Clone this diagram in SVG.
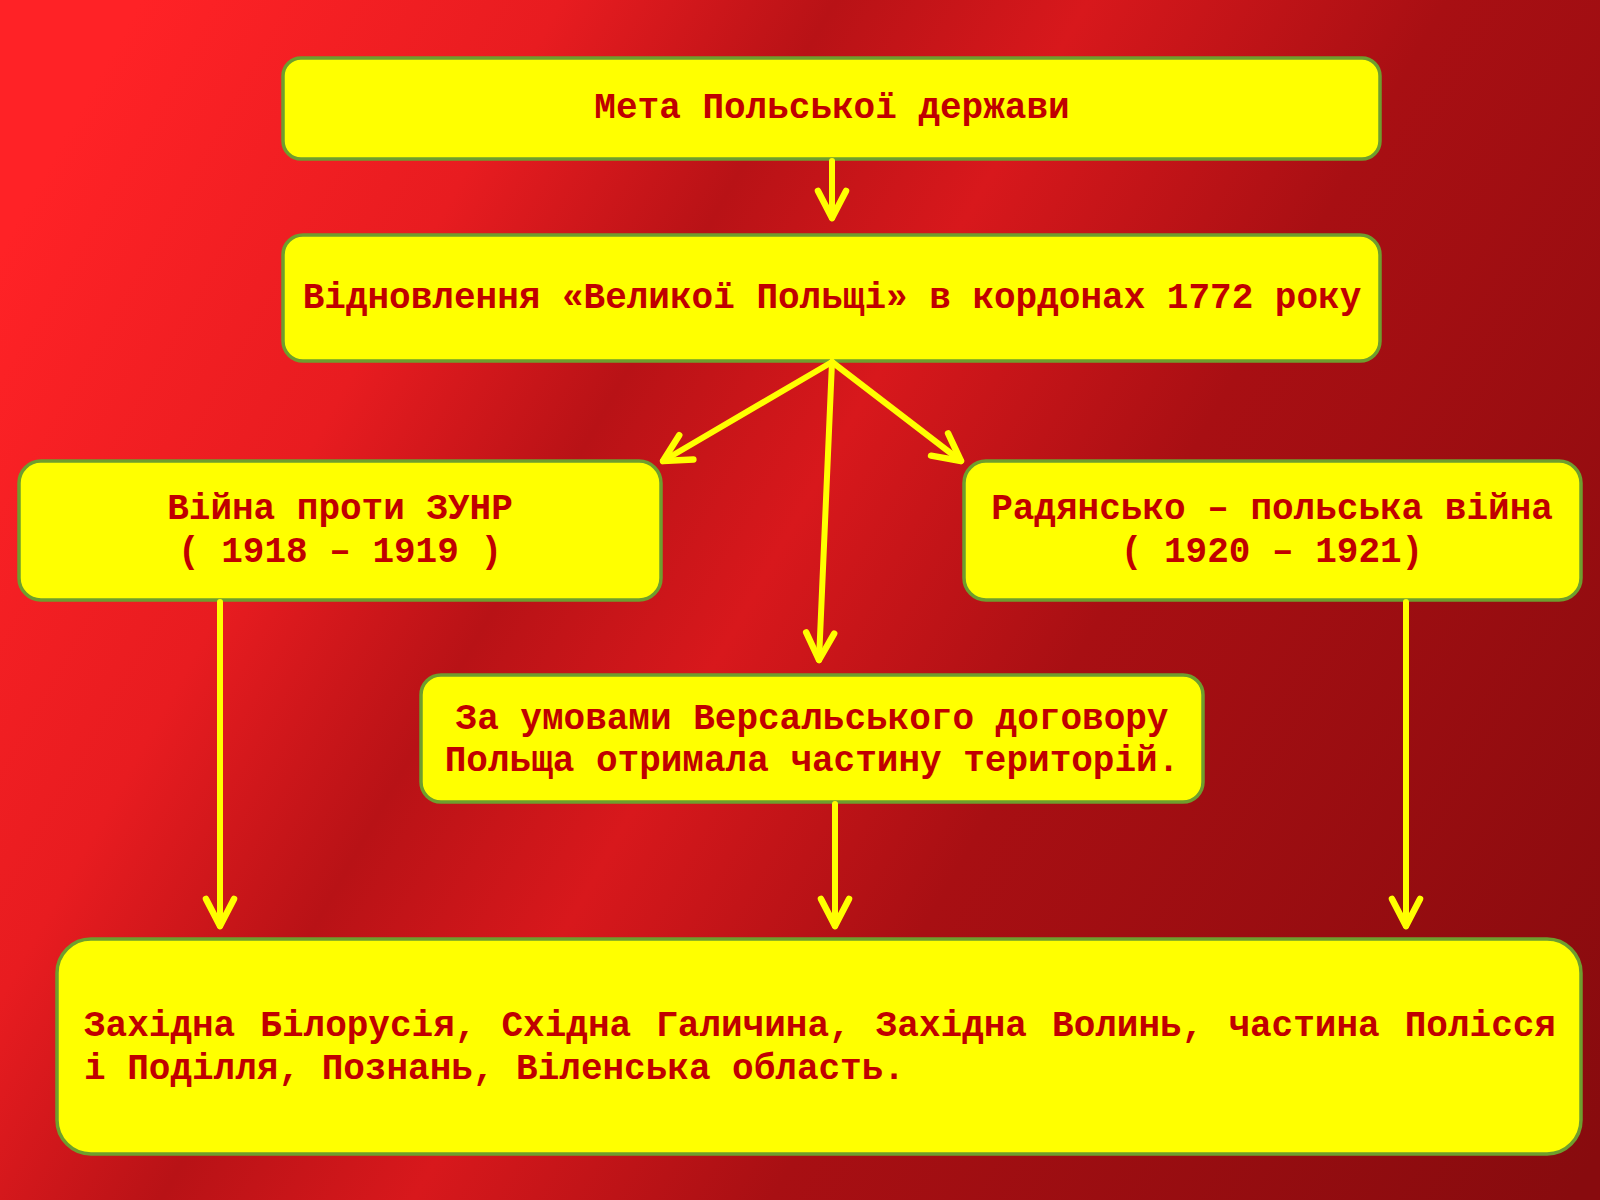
<svg xmlns="http://www.w3.org/2000/svg" width="1600" height="1200" viewBox="0 0 1600 1200">
<defs>
<linearGradient id="bg" gradientUnits="userSpaceOnUse" x1="0" y1="250" x2="1600" y2="1150">
<stop offset="0" stop-color="#ff2226"/>
<stop offset="0.2" stop-color="#e81c20"/>
<stop offset="0.33" stop-color="#b81216"/>
<stop offset="0.45" stop-color="#d8181c"/>
<stop offset="0.62" stop-color="#a80f13"/>
<stop offset="1" stop-color="#880b0e"/>
</linearGradient>
<marker id="ah" markerUnits="userSpaceOnUse" orient="auto" markerWidth="60" markerHeight="60" viewBox="-40 -30 60 60" refX="0" refY="0">
<path d="M-27,-14 L0,0 L-27,14" fill="none" stroke="#ffff00" stroke-width="6.5" stroke-linecap="round" stroke-linejoin="round"/>
</marker>
</defs>
<style>
.box{fill:#ffff00;stroke:#6e9e2e;stroke-width:3.5}
.t{font-family:"Liberation Mono","Courier New",monospace;font-weight:bold;font-size:36px;fill:#c00000}
.c{text-anchor:middle}
.conn{fill:none;stroke:#ffff00;stroke-width:6;stroke-linecap:round;marker-end:url(#ah)}
</style>
<rect width="1600" height="1200" fill="url(#bg)"/>
<g id="n1"><rect class="box" x="283" y="58" width="1097" height="101" rx="18"/><text class="t c" x="832" y="118">Мета Польської держави</text></g>
<g id="n2"><rect class="box" x="283" y="235" width="1097" height="126" rx="20"/><text class="t c" x="832" y="308">Відновлення «Великої Польщі» в кордонах 1772 року</text></g>
<g id="n3"><rect class="box" x="19" y="461" width="642" height="139" rx="22"/><text class="t c" x="340" y="519">Війна проти ЗУНР</text><text class="t c" x="340" y="562">( 1918 – 1919 )</text></g>
<g id="n4"><rect class="box" x="964" y="461" width="617" height="139" rx="22"/><text class="t c" x="1272" y="519">Радянсько – польська війна</text><text class="t c" x="1272" y="562">( 1920 – 1921)</text></g>
<g id="n5"><rect class="box" x="421" y="675" width="782" height="127" rx="20"/><text class="t c" x="812" y="729">За умовами Версальського договору</text><text class="t c" x="812" y="771">Польща отримала частину територій.</text></g>
<g id="n6"><rect class="box" x="57" y="939" width="1524" height="215" rx="34"/><text class="t" x="84" y="1036" word-spacing="3.5">Західна Білорусія, Східна Галичина, Західна Волинь, частина Полісся</text><text class="t" x="84" y="1079">і Поділля, Познань, Віленська область.</text></g>
<g id="connectors">
<path class="conn" d="M832,161 L832,218"/>
<path class="conn" d="M832,362 L663,461"/>
<path class="conn" d="M832,362 L819,660"/>
<path class="conn" d="M832,362 L961,461"/>
<path class="conn" d="M220,602 L220,926"/>
<path class="conn" d="M835,804 L835,926"/>
<path class="conn" d="M1406,602 L1406,926"/>
</g>
</svg>
